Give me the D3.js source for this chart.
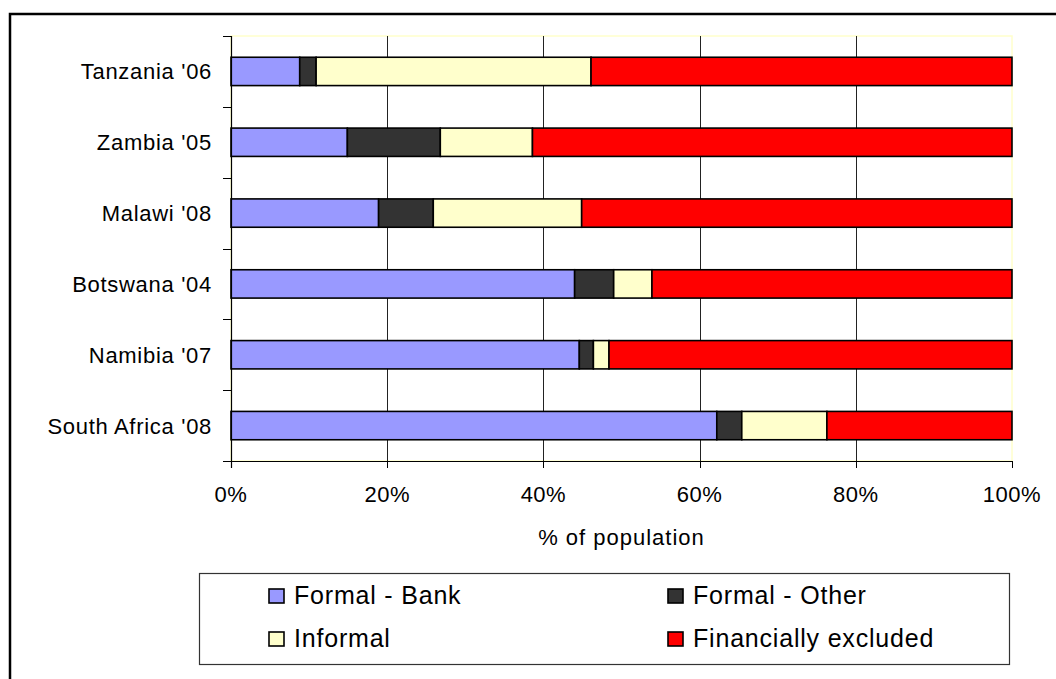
<!DOCTYPE html>
<html>
<head>
<meta charset="utf-8">
<script src="https://cdn.jsdelivr.net/npm/d3@7"></script>
<style>
  html, body { margin: 0; padding: 0; background: #fff; }
  svg { display: block; }
  text { font-family: "Liberation Sans", Arial, sans-serif; fill: #000; }
</style>
</head>
<body>
<svg id="chart" width="1056" height="679"></svg>
<script>
// Access to financial services, share of adult population
const countries = ["Tanzania '06", "Zambia '05", "Malawi '08", "Botswana '04", "Namibia '07", "South Africa '08"];
const seriesNames = ["Formal - Bank", "Formal - Other", "Informal", "Financially excluded"];
const seriesColors = ["#9999ff", "#333333", "#ffffcc", "#ff0000"];

const formalBank  = [8.8, 14.9, 18.9, 44.0, 44.6, 62.2];
const formalOther = [2.1, 11.9, 7.0, 5.0, 1.8, 3.2];
const informal    = [35.2, 11.8, 19.0, 4.9, 2.0, 10.9];
const excluded    = [53.9, 61.4, 55.1, 46.1, 51.6, 23.7];

const xTicks = [0, 20, 40, 60, 80, 100];
const xTitle = "% of population";

const rows = countries.map((c, i) => ({
  country: c,
  "Formal - Bank": formalBank[i],
  "Formal - Other": formalOther[i],
  "Informal": informal[i],
  "Financially excluded": excluded[i]
}));

const svg = d3.select("#chart");
const plot = { left: 231, right: 1012, top: 36, bottom: 461 };
const fontSize = 22;
const legendFontSize = 25;

// outer chart frame
svg.append("rect")
  .attr("x", 10).attr("y", 14)
  .attr("width", 1060).attr("height", 700)
  .attr("fill", "#fff").attr("stroke", "#000").attr("stroke-width", 2.5);

const x = d3.scaleLinear().domain([0, 100]).range([plot.left, plot.right]);
const y = d3.scaleBand().domain(countries).range([plot.top, plot.bottom])
  .paddingInner(0.6).paddingOuter(0.3);

// plot area border (pale)
svg.append("rect")
  .attr("x", plot.left).attr("y", plot.top)
  .attr("width", plot.right - plot.left).attr("height", plot.bottom - plot.top)
  .attr("fill", "#fff").attr("stroke", "#ffffcc").attr("stroke-width", 1.5);

// vertical gridlines
svg.append("g").selectAll("line")
  .data(xTicks.filter(t => t > 0 && t < 100))
  .join("line")
  .attr("x1", d => Math.round(x(d)) + 0.5).attr("x2", d => Math.round(x(d)) + 0.5)
  .attr("y1", plot.top).attr("y2", plot.bottom)
  .attr("stroke", "#222").attr("stroke-width", 1);

// stacked bars
const stack = d3.stack().keys(seriesNames);
const layers = stack(rows);
svg.append("g").selectAll("g")
  .data(layers)
  .join("g")
  .attr("fill", (d, i) => seriesColors[i])
  .selectAll("rect")
  .data(d => d)
  .join("rect")
  .attr("x", d => x(d[0]))
  .attr("y", d => y(d.data.country))
  .attr("width", d => x(d[1]) - x(d[0]))
  .attr("height", y.bandwidth())
  .attr("stroke", "#000")
  .attr("stroke-width", 1.6);

// y axis: line, ticks between categories, labels
const step = y.step();
const yAxisG = svg.append("g");
yAxisG.append("line")
  .attr("x1", plot.left + 0.5).attr("x2", plot.left + 0.5)
  .attr("y1", plot.top).attr("y2", plot.bottom + 7)
  .attr("stroke", "#000").attr("stroke-width", 1.2);
const yTickPos = d3.range(countries.length + 1).map(i => plot.top + i * step);
yAxisG.selectAll("line.tick")
  .data(yTickPos)
  .join("line").attr("class", "tick")
  .attr("x1", plot.left - 8).attr("x2", plot.left)
  .attr("y1", d => Math.round(d) + 0.5).attr("y2", d => Math.round(d) + 0.5)
  .attr("stroke", "#000").attr("stroke-width", 1);
yAxisG.selectAll("text")
  .data(countries)
  .join("text")
  .attr("x", 212)
  .attr("y", d => y(d) + y.bandwidth() / 2 + 8)
  .attr("text-anchor", "end")
  .attr("font-size", fontSize)
  .attr("letter-spacing", 0.7)
  .text(d => d);

// x axis
const xAxisG = svg.append("g");
xAxisG.append("line")
  .attr("x1", plot.left).attr("x2", plot.right)
  .attr("y1", plot.bottom + 0.5).attr("y2", plot.bottom + 0.5)
  .attr("stroke", "#000").attr("stroke-width", 1.2);
xAxisG.selectAll("line.tick")
  .data(xTicks)
  .join("line").attr("class", "tick")
  .attr("x1", d => Math.round(x(d)) + 0.5).attr("x2", d => Math.round(x(d)) + 0.5)
  .attr("y1", plot.bottom).attr("y2", plot.bottom + 7)
  .attr("stroke", "#000").attr("stroke-width", 1);
xAxisG.selectAll("text")
  .data(xTicks)
  .join("text")
  .attr("x", d => x(d))
  .attr("y", 502)
  .attr("text-anchor", "middle")
  .attr("font-size", fontSize)
  .attr("letter-spacing", 0.5)
  .text(d => d + "%");

svg.append("text")
  .attr("x", (plot.left + plot.right) / 2)
  .attr("y", 545)
  .attr("text-anchor", "middle")
  .attr("font-size", fontSize)
  .attr("letter-spacing", 1)
  .text(xTitle);

// legend
const legend = svg.append("g");
legend.append("rect")
  .attr("x", 199.5).attr("y", 573.5)
  .attr("width", 810).attr("height", 91)
  .attr("fill", "#fff").attr("stroke", "#333").attr("stroke-width", 1.2);
const legendPos = [[269, 604], [668, 604], [269, 647], [668, 647]];
const items = legend.selectAll("g.item")
  .data(seriesNames)
  .join("g").attr("class", "item")
  .attr("transform", (d, i) => `translate(${legendPos[i][0]},${legendPos[i][1]})`);
items.append("rect")
  .attr("x", 0).attr("y", -15)
  .attr("width", 15).attr("height", 14)
  .attr("fill", (d, i) => seriesColors[i])
  .attr("stroke", "#000").attr("stroke-width", 1.6);
items.append("text")
  .attr("x", 25).attr("y", 0)
  .attr("font-size", legendFontSize)
  .attr("letter-spacing", 0.8)
  .text(d => d);
</script>
</body>
</html>
